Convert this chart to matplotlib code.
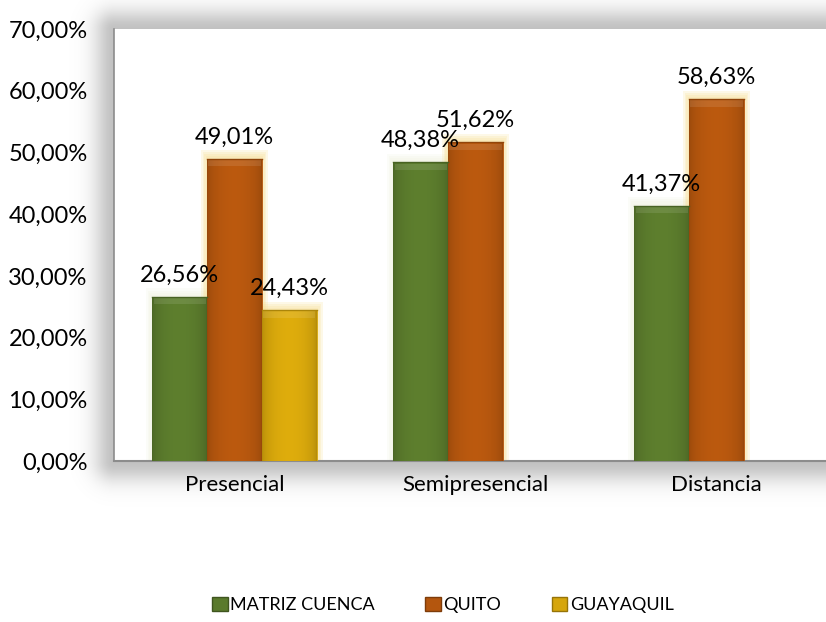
import numpy as np
import matplotlib.pyplot as plt
from matplotlib.patches import Rectangle
from matplotlib.colors import to_rgb

# Data
categories = ["Presencial", "Semipresencial", "Distancia"]
series_names = ["MATRIZ CUENCA", "QUITO", "GUAYAQUIL"]
matriz_cuenca = [26.56, 48.38, 41.37]
quito = [49.01, 51.62, 58.63]
guayaquil = [24.43, None, None]
series_colors = ["#5a7a2c", "#b4560e", "#d6a60c"]
glow_colors = ["#eef0dc", "#f6dc8a", "#f6dc8a"]

plt.rcParams['font.family'] = ['Lato', 'DejaVu Sans']

W, H = 826, 622
fig = plt.figure(figsize=(W / 100, H / 100), dpi=100)

# plot area box (figure fraction)
left, bottom, width, height = 114 / W, 1 - 461 / H, (837 - 114) / W, (461 - 29) / H

# soft gray shadow around the plot area
bg = fig.add_axes([0, 0, 1, 1], zorder=0)
bg.set_axis_off()
yy, xx = np.mgrid[0:H, 0:W]
x0, x1 = left * W, (left + width) * W
y0, y1 = (1 - bottom - height) * H, (1 - bottom) * H
dx = np.maximum(np.maximum(x0 - xx, xx - x1), 0)
dy = np.maximum(np.maximum(y0 - yy, yy - y1), 0)
d = np.hypot(dx, dy)
shade = 0.24 * np.exp(-(d / 20.0) ** 2)
shade[d > 45] = 0
img = np.ones((H, W, 3)) - shade[..., None]
bg.imshow(img, extent=[0, 1, 0, 1], aspect='auto', interpolation='nearest')
bg.set_xlim(0, 1)
bg.set_ylim(0, 1)

ax = fig.add_axes([left, bottom, width, height], zorder=1)
ax.set_facecolor("white")

x = np.arange(len(categories))
bar_w = 0.228
offsets = [-bar_w, 0, bar_w]
all_series = [matriz_cuenca, quito, guayaquil]


def shaded(color, n=64):
    base = np.array(to_rgb(color))
    t = np.linspace(0, 1, n)
    prof = 0.84 + 0.2 * np.sin(np.pi * t) ** 0.5
    row = np.clip(base[None, :] * prof[:, None], 0, 1)
    return row[None, :, :]


for vals, off, col, glow in zip(all_series, offsets, series_colors, glow_colors):
    xs = [xi + off for xi, v in zip(x, vals) if v is not None]
    vs = [v for v in vals if v is not None]
    bars = ax.bar(xs, vs, width=bar_w, color=col, edgecolor=col, linewidth=0.6, zorder=3)
    for b, v in zip(bars, vs):
        bx, bw, bh = b.get_x(), b.get_width(), b.get_height()
        # glow
        for k in range(1, 5):
            gx = 0.006 * k
            ax.add_patch(Rectangle((bx - gx, 0), bw + 2 * gx, bh + 0.35 * k,
                                   facecolor=glow, edgecolor="none", alpha=0.2, zorder=2))
        # horizontal gradient clipped to bar
        im = ax.imshow(shaded(col), extent=[bx, bx + bw, 0, bh], aspect='auto',
                       zorder=3.5, interpolation='bilinear')
        im.set_clip_path(b)
        # top bevel
        ax.add_patch(Rectangle((bx + 0.006, bh - 1.2), bw - 0.012, 1.0,
                               facecolor="white", edgecolor="none", alpha=0.1, zorder=4))
        ax.plot([bx, bx + bw], [bh, bh], color=np.array(to_rgb(col)) * 0.8, lw=1, zorder=4)
        ax.annotate(f"{v:.2f}%".replace(".", ","), (bx + bw / 2, bh),
                    xytext=(0, 8), textcoords="offset points",
                    ha="center", va="bottom", fontsize=17, color="black", zorder=6)

ax.set_xlim(-0.5, len(categories) - 0.5)
ax.set_ylim(0, 70)
ax.set_yticks(np.arange(0, 71, 10))
ax.set_yticklabels([f"{t:.2f}%".replace(".", ",") for t in np.arange(0, 71, 10)], fontsize=17)
ax.set_xticks(x)
ax.set_xticklabels(categories, fontsize=16)
ax.tick_params(axis="y", length=0, pad=19)
ax.tick_params(axis="x", length=0, pad=10)
for s in ["top", "right"]:
    ax.spines[s].set_visible(False)
ax.spines["left"].set_color("#8c8c8c")
ax.spines["bottom"].set_color("#8c8c8c")
ax.spines["left"].set_linewidth(1.2)
ax.spines["bottom"].set_linewidth(1.5)

handles = [Rectangle((0, 0), 1, 1, facecolor=c, edgecolor=np.array(to_rgb(c)) * 0.7)
           for c in series_colors]
fig.legend(handles, series_names, loc="center", bbox_to_anchor=(443 / W, 1 - 605 / H),
           ncol=3, frameon=False, fontsize=13, handlelength=0.85, handleheight=0.85,
           handletextpad=0.15, columnspacing=2.8)

fig.savefig("out.png", dpi=100)
